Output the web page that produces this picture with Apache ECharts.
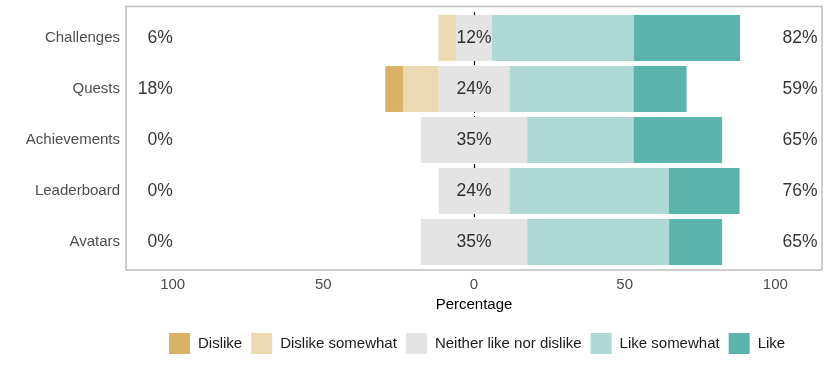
<!DOCTYPE html>
<html>
<head>
<meta charset="utf-8">
<script src="https://cdn.jsdelivr.net/npm/echarts@6/dist/echarts.min.js"></script>
<style>
  html, body { margin: 0; padding: 0; background: #fff; }
  #chart { width: 830px; height: 369px; }
</style>
</head>
<body>
<div id="chart"></div>
<script>
// data (percent of respondents)
var items = ["Challenges", "Quests", "Achievements", "Leaderboard", "Avatars"];
var levels = ["Dislike", "Dislike somewhat", "Neither like nor dislike", "Like somewhat", "Like"];
var dislike = [0, 5.9, 0, 0, 0];
var dislikeSomewhat = [5.9, 11.8, 0, 0, 0];
var neither = [11.8, 23.5, 35.3, 23.5, 35.3];
var likeSomewhat = [47.1, 41.2, 35.3, 52.9, 47.1];
var like = [35.3, 17.6, 29.4, 23.5, 17.6];
var tickValues = [-100, -50, 0, 50, 100];

var colors = {
  "Dislike": "#D8B365",
  "Dislike somewhat": "#EBD9B2",
  "Neither like nor dislike": "#E4E4E4",
  "Like somewhat": "#AED9D5",
  "Like": "#5AB4AC"
};

var font = "'Liberation Sans', Arial, sans-serif";

var chart = echarts.init(document.getElementById("chart"));

function barSeries(name, values) {
  return {
    name: name,
    type: "bar",
    stack: "likert",
    barWidth: "90%",
    itemStyle: { color: colors[name] },
    emphasis: { disabled: true },
    data: values
  };
}

function textSeries(xPos, texts, position) {
  return {
    type: "scatter",
    symbolSize: 0,
    silent: true,
    z: 5,
    label: {
      show: true,
      position: position,
      distance: 0,
      fontFamily: font,
      fontSize: 17.5,
      color: "#000",
      formatter: function (p) { return texts[p.dataIndex]; }
    },
    data: items.map(function (c) { return [xPos, c]; })
  };
}

var lowText = items.map(function (c, i) { return Math.round(dislike[i] + dislikeSomewhat[i]) + "%"; });
var midText = items.map(function (c, i) { return Math.round(neither[i]) + "%"; });
var highText = items.map(function (c, i) { return Math.round(likeSomewhat[i] + like[i]) + "%"; });

var option = {
  backgroundColor: "#fff",
  animation: false,
  // panel border (slightly larger than the category area, like ggplot)
  graphic: [{
    type: "rect",
    z: 0,
    silent: true,
    shape: { x: 126, y: 6.5, width: 696, height: 263.5 },
    style: { fill: null, stroke: "#BEBEBE", lineWidth: 1.5 }
  }],
  grid: {
    left: 126, right: 8, top: 12.5, bottom: 101.5
  },
  legend: {
    data: levels,
    bottom: 10,
    left: 164,
    icon: "rect",
    itemWidth: 21,
    itemHeight: 21,
    itemGap: 9,
    textStyle: { fontFamily: font, fontSize: 15, color: "#1A1A1A", padding: [0, 0, 0, 3] }
  },
  xAxis: {
    type: "value",
    min: -115.5,
    max: 115.5,
    name: "Percentage",
    nameLocation: "middle",
    nameGap: 28.5,
    nameTextStyle: { fontFamily: font, fontSize: 15, color: "#000" },
    axisLine: { show: false },
    axisTick: { show: false },
    splitLine: { show: false },
    axisLabel: {
      customValues: tickValues,
      fontFamily: font,
      fontSize: 15,
      color: "#4D4D4D",
      margin: 10,
      formatter: function (v) { return Math.abs(v); }
    }
  },
  yAxis: {
    type: "category",
    data: items,
    inverse: true,
    axisTick: { show: false },
    axisLine: { show: true, onZero: true, lineStyle: { color: "#000", type: [4, 4], width: 1.2 } },
    axisLabel: { fontFamily: font, fontSize: 15, color: "#4D4D4D", margin: 6 }
  },
  series: [
    barSeries("Neither like nor dislike", neither.map(function (v) { return -v / 2; })),
    barSeries("Dislike somewhat", dislikeSomewhat.map(function (v) { return -v; })),
    barSeries("Dislike", dislike.map(function (v) { return -v; })),
    barSeries("Neither like nor dislike", neither.map(function (v) { return v / 2; })),
    barSeries("Like somewhat", likeSomewhat),
    barSeries("Like", like),
    textSeries(-100, lowText, "left"),
    textSeries(0, midText, "inside"),
    textSeries(108.2, highText, "inside")
  ]
};
chart.setOption(option);
</script>
</body>
</html>
